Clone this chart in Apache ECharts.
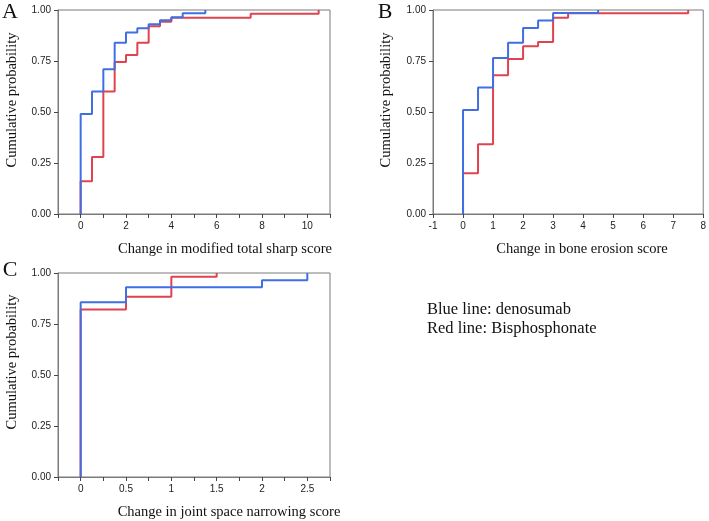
<!DOCTYPE html>
<html>
<head>
<meta charset="utf-8">
<script src="https://cdn.jsdelivr.net/npm/echarts@6/dist/echarts.min.js"></script>
<style>html,body{margin:0;padding:0;background:#fff}#c{width:709px;height:521px}</style>
</head>
<body>
<div id="c"></div>
<script>
// Panel A: modified total sharp score
const aBlueX = [0, 0, 0.5, 1, 1.5, 2, 2.5, 3, 3.5, 4, 4.5, 5.5];
const aBlueY = [0, 0.49, 0.60, 0.71, 0.84, 0.89, 0.91, 0.93, 0.95, 0.965, 0.984, 1.0];
const aRedX = [0, 0, 0.5, 1, 1.5, 2, 2.5, 3, 3.5, 4, 7.5, 10.5];
const aRedY = [0, 0.16, 0.28, 0.60, 0.745, 0.78, 0.84, 0.92, 0.943, 0.962, 0.982, 1.0];
// Panel B: bone erosion score
const bBlueX = [0, 0, 0.5, 1, 1.5, 2, 2.5, 3, 4.5];
const bBlueY = [0, 0.51, 0.62, 0.765, 0.84, 0.912, 0.948, 0.985, 1.0];
const bRedX = [0, 0, 0.5, 1, 1.5, 2, 2.5, 3, 3.5, 7.5];
const bRedY = [0, 0.20, 0.342, 0.68, 0.76, 0.822, 0.843, 0.962, 0.984, 1.0];
// Panel C: joint space narrowing score
const cBlueX = [0, 0, 0.5, 2, 2.5];
const cBlueY = [0, 0.857, 0.93, 0.964, 1.0];
const cRedX = [0, 0, 0.5, 1, 1.5];
const cRedY = [0, 0.821, 0.883, 0.982, 1.0];

const yTicks = [0, 0.25, 0.5, 0.75, 1];
const panelLetters = ['A', 'B', 'C'];
const xTitles = ['Change in modified total sharp score', 'Change in bone erosion score', 'Change in joint space narrowing score'];
const yTitle = 'Cumulative probability';
const legendLines = ['Blue line: denosumab', 'Red line: Bisphosphonate'];

const BLUE = '#3f6fe3';
const RED = '#e0434f';
const AXIS = '#7a7a7a';
const SERIF = '"Liberation Serif","Times New Roman",serif';
const SANS = '"Liberation Sans",Arial,sans-serif';

function zip(xs, ys) { return xs.map((x, i) => [x, ys[i]]); }

const grids = [
  {left: 58, top: 10, width: 272, height: 204},
  {left: 433, top: 10, width: 271, height: 204},
  {left: 58, top: 273, width: 272, height: 204}
].map(g => Object.assign(g, {show: true, borderColor: AXIS, borderWidth: 1, containLabel: false}));

function xAxis(i, min, max, interval, fmt) {
  return {
    type: 'value', gridIndex: i, min: min, max: max, interval: interval,
    axisLine: {show: true, onZero: false, lineStyle: {color: AXIS, width: 1}},
    axisTick: {show: true, length: 4, lineStyle: {color: '#444'}},
    splitLine: {show: false},
    axisLabel: {fontFamily: SANS, fontSize: 10, color: '#222', margin: 7, formatter: fmt, showMinLabel: true, showMaxLabel: true}
  };
}
function yAxis(i) {
  return {
    type: 'value', gridIndex: i, min: yTicks[0], max: yTicks[yTicks.length - 1], interval: 0.25,
    axisLine: {show: true, onZero: false, lineStyle: {color: AXIS, width: 1}},
    axisTick: {show: true, length: 4, lineStyle: {color: '#444'}},
    splitLine: {show: false},
    axisLabel: {fontFamily: SANS, fontSize: 10, color: '#222', margin: 7, formatter: v => v.toFixed(2)}
  };
}

const fmtA = v => (Math.round(v) % 2 === 0 ? String(v) : '');
const fmtB = v => String(v);
const fmtC = v => {
  const r = Math.round(v * 2);
  return (Math.abs(v * 2 - r) < 1e-6 && v >= 0) ? String(Math.round(v * 10) / 10) : '';
};

function line(data, color, xi, z) {
  return {
    type: 'line', xAxisIndex: xi, yAxisIndex: xi, data: data, step: 'end',
    symbol: 'none', z: z, animation: false,
    lineStyle: {color: color, width: 2}
  };
}

const texts = [];
function txt(x, y, t, size, rot, align) {
  texts.push({
    type: 'text', x: x, y: y, rotation: rot ? Math.PI / 2 : 0,
    style: {text: t, font: size + 'px ' + SERIF, fill: '#111', align: align || 'center', verticalAlign: 'middle'}
  });
}
txt(10, 12, panelLetters[0], 22, false);
txt(385, 12, panelLetters[1], 22, false);
txt(10, 270, panelLetters[2], 22, false);
txt(12, 100, yTitle, 14.5, true);
txt(386, 100, yTitle, 14.5, true);
txt(12, 362, yTitle, 14.5, true);
txt(225, 249, xTitles[0], 14.5, false);
txt(582, 249, xTitles[1], 14.5, false);
txt(229, 512, xTitles[2], 14.5, false);
txt(427, 310, legendLines[0], 16.5, false, 'left');
txt(427, 329, legendLines[1], 16.5, false, 'left');

const option = {
  animation: false,
  backgroundColor: '#fff',
  grid: grids,
  xAxis: [xAxis(0, -1, 11, 1, fmtA), xAxis(1, -1, 8, 1, fmtB), xAxis(2, -0.25, 2.75, 0.25, fmtC)],
  yAxis: [yAxis(0), yAxis(1), yAxis(2)],
  series: [
    line(zip(aRedX, aRedY), RED, 0, 2), line(zip(aBlueX, aBlueY), BLUE, 0, 3),
    line(zip(bRedX, bRedY), RED, 1, 2), line(zip(bBlueX, bBlueY), BLUE, 1, 3),
    line(zip(cRedX, cRedY), RED, 2, 2), line(zip(cBlueX, cBlueY), BLUE, 2, 3)
  ],
  graphic: texts
};
const chart = echarts.init(document.getElementById('c'), null, {renderer: 'canvas'});
chart.setOption(option);
</script>
</body>
</html>
